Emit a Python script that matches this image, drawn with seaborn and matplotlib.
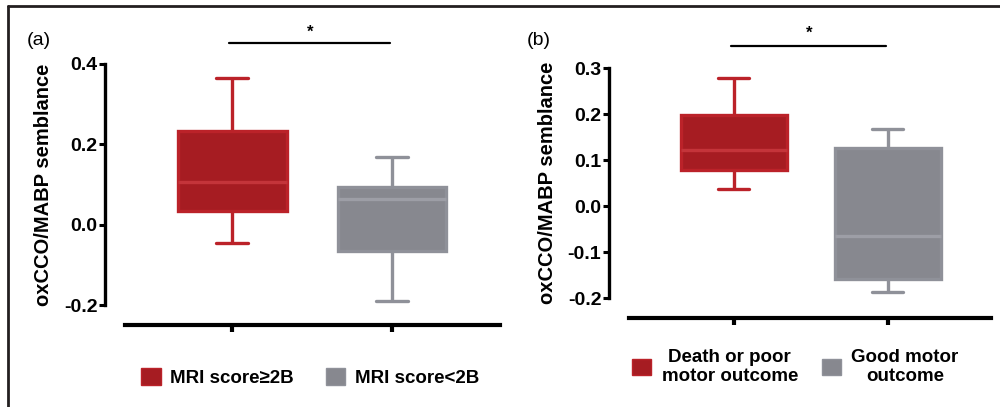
import numpy as np
import pandas as pd
import seaborn as sns
import matplotlib
matplotlib.use("Agg")
import matplotlib.pyplot as plt
from matplotlib.patches import Patch
from matplotlib.lines import Line2D

# five-number summaries: min, q1, median, q3, max
# panel (a): MRI score groups
mri_groups = ["MRI score\u22652B", "MRI score<2B"]
mri_high = [-0.045, 0.033, 0.105, 0.232, 0.365]
mri_low = [-0.19, -0.065, 0.063, 0.095, 0.168]

# panel (b): motor outcome groups
motor_groups = ["Death or poor\nmotor outcome", "Good motor\noutcome"]
motor_poor = [0.038, 0.079, 0.122, 0.198, 0.279]
motor_good = [-0.186, -0.159, -0.066, 0.127, 0.167]

ylabel = "oxCCO/MABP semblance"
yticks_a = [-0.2, 0.0, 0.2, 0.4]
yticks_b = [-0.2, -0.1, 0.0, 0.1, 0.2, 0.3]

red_fill, red_line, red_med = "#a61c22", "#bb2229", "#c4343a"
grey_fill, grey_line, grey_med = "#87888f", "#8f9199", "#9d9ea6"

sns.set_style("white")
plt.rcParams["font.family"] = ["Liberation Sans", "DejaVu Sans"]
plt.rcParams["font.weight"] = "bold"
plt.rcParams["text.color"] = "black"
plt.rcParams["axes.labelcolor"] = "black"
plt.rcParams["ytick.color"] = "black"
plt.rcParams["xtick.color"] = "black"

fig = plt.figure(figsize=(10, 4.07), dpi=100)


def draw_panel(ax, groups, values, colors, yticks, box_w, xlim, sig_y, star_y):
    df = pd.DataFrame({
        "group": np.repeat(groups, [len(v) for v in values]),
        "value": np.concatenate(values),
    })
    for g, (fill, line, med) in zip(groups, colors):
        sns.boxplot(data=df[df["group"] == g], x="group", y="value",
                    order=groups, color=fill, linecolor=line, linewidth=2.4,
                    width=box_w, whis=(0, 100), saturation=1, ax=ax,
                    capwidths=0.2,
                    medianprops=dict(color=med, linewidth=2.4),
                    boxprops=dict(facecolor=fill, edgecolor=line))
    ax.set_xlim(*xlim)
    ax.set_ylim(yticks[0], yticks[-1])
    ax.tick_params(axis="y", left=True, length=4.5, width=2.2, pad=1,
                   color="black", labelcolor="black", labelsize=14)
    ax.tick_params(axis="x", bottom=True, length=5, width=3, color="black")
    ax.set_yticks(yticks)
    ax.set_yticklabels([f"{t:.1f}" for t in yticks], fontweight="bold")
    ax.set_xticks([0, 1])
    ax.set_xticklabels(["", ""])
    ax.set_xlabel("")
    ax.set_ylabel(ylabel, fontsize=14.5, fontweight="bold", labelpad=8,
                  color="black")
    for s in ["top", "right"]:
        ax.spines[s].set_visible(False)
    # 20 px offset = 14.4 pt at 100 dpi
    ax.spines["left"].set_position(("outward", 14.4))
    ax.spines["left"].set_linewidth(2.4)
    ax.spines["bottom"].set_position(("outward", 14.4))
    ax.spines["bottom"].set_linewidth(3)
    ax.spines["left"].set_color("black")
    ax.spines["bottom"].set_color("black")
    # significance bar
    ax.plot([-0.02, 0.99], [sig_y, sig_y], color="black", lw=1.6,
            clip_on=False)
    ax.text(0.49, star_y, "*", ha="center", va="center", fontsize=12,
            fontweight="bold")
    handles = [Patch(facecolor=c[0], edgecolor=c[1], lw=1) for c in colors]
    return handles


colors = [(red_fill, red_line, red_med), (grey_fill, grey_line, grey_med)]

ax_a = fig.add_axes([0.125, 0.2506, 0.375, 0.5922])
h_a = draw_panel(ax_a, mri_groups, [mri_high, mri_low], colors,
                 yticks_a, 0.68, (-0.67, 1.675), 0.4525, 0.48)
ax_a.legend(h_a, mri_groups, loc="center", bbox_to_anchor=(0.493, -0.30),
            ncol=2, frameon=False, handlelength=1.05, handleheight=1.05,
            handletextpad=0.5, columnspacing=1.7,
            prop=dict(size=13.5, weight="bold"))

ax_b = fig.add_axes([0.629, 0.2678, 0.362, 0.5651])
h_b = draw_panel(ax_b, motor_groups, [motor_poor, motor_good], colors,
                 yticks_b, 0.69, (-0.68, 1.669), 0.348, 0.375)
ax_b.legend(h_b, motor_groups, loc="center", bbox_to_anchor=(0.46, -0.30),
            ncol=2, frameon=False, handlelength=1.0, handleheight=1.0,
            handletextpad=0.55, columnspacing=1.3,
            prop=dict(size=13.5, weight="bold"))
for t in ax_b.get_legend().get_texts():
    t.set_multialignment("center")

fig.text(0.027, 0.9, "(a)", fontsize=14, fontweight="normal",
         ha="left", va="center")
fig.text(0.527, 0.9, "(b)", fontsize=14, fontweight="normal",
         ha="left", va="center")

# outer frame (top and left edges)
fig.add_artist(Line2D([0.008, 1.0], [1 - 6 / 407, 1 - 6 / 407],
                      color="#231f20", lw=2, transform=fig.transFigure))
fig.add_artist(Line2D([0.008, 0.008], [0, 1 - 6 / 407],
                      color="#231f20", lw=2, transform=fig.transFigure))

fig.savefig("out.png", dpi=100)
